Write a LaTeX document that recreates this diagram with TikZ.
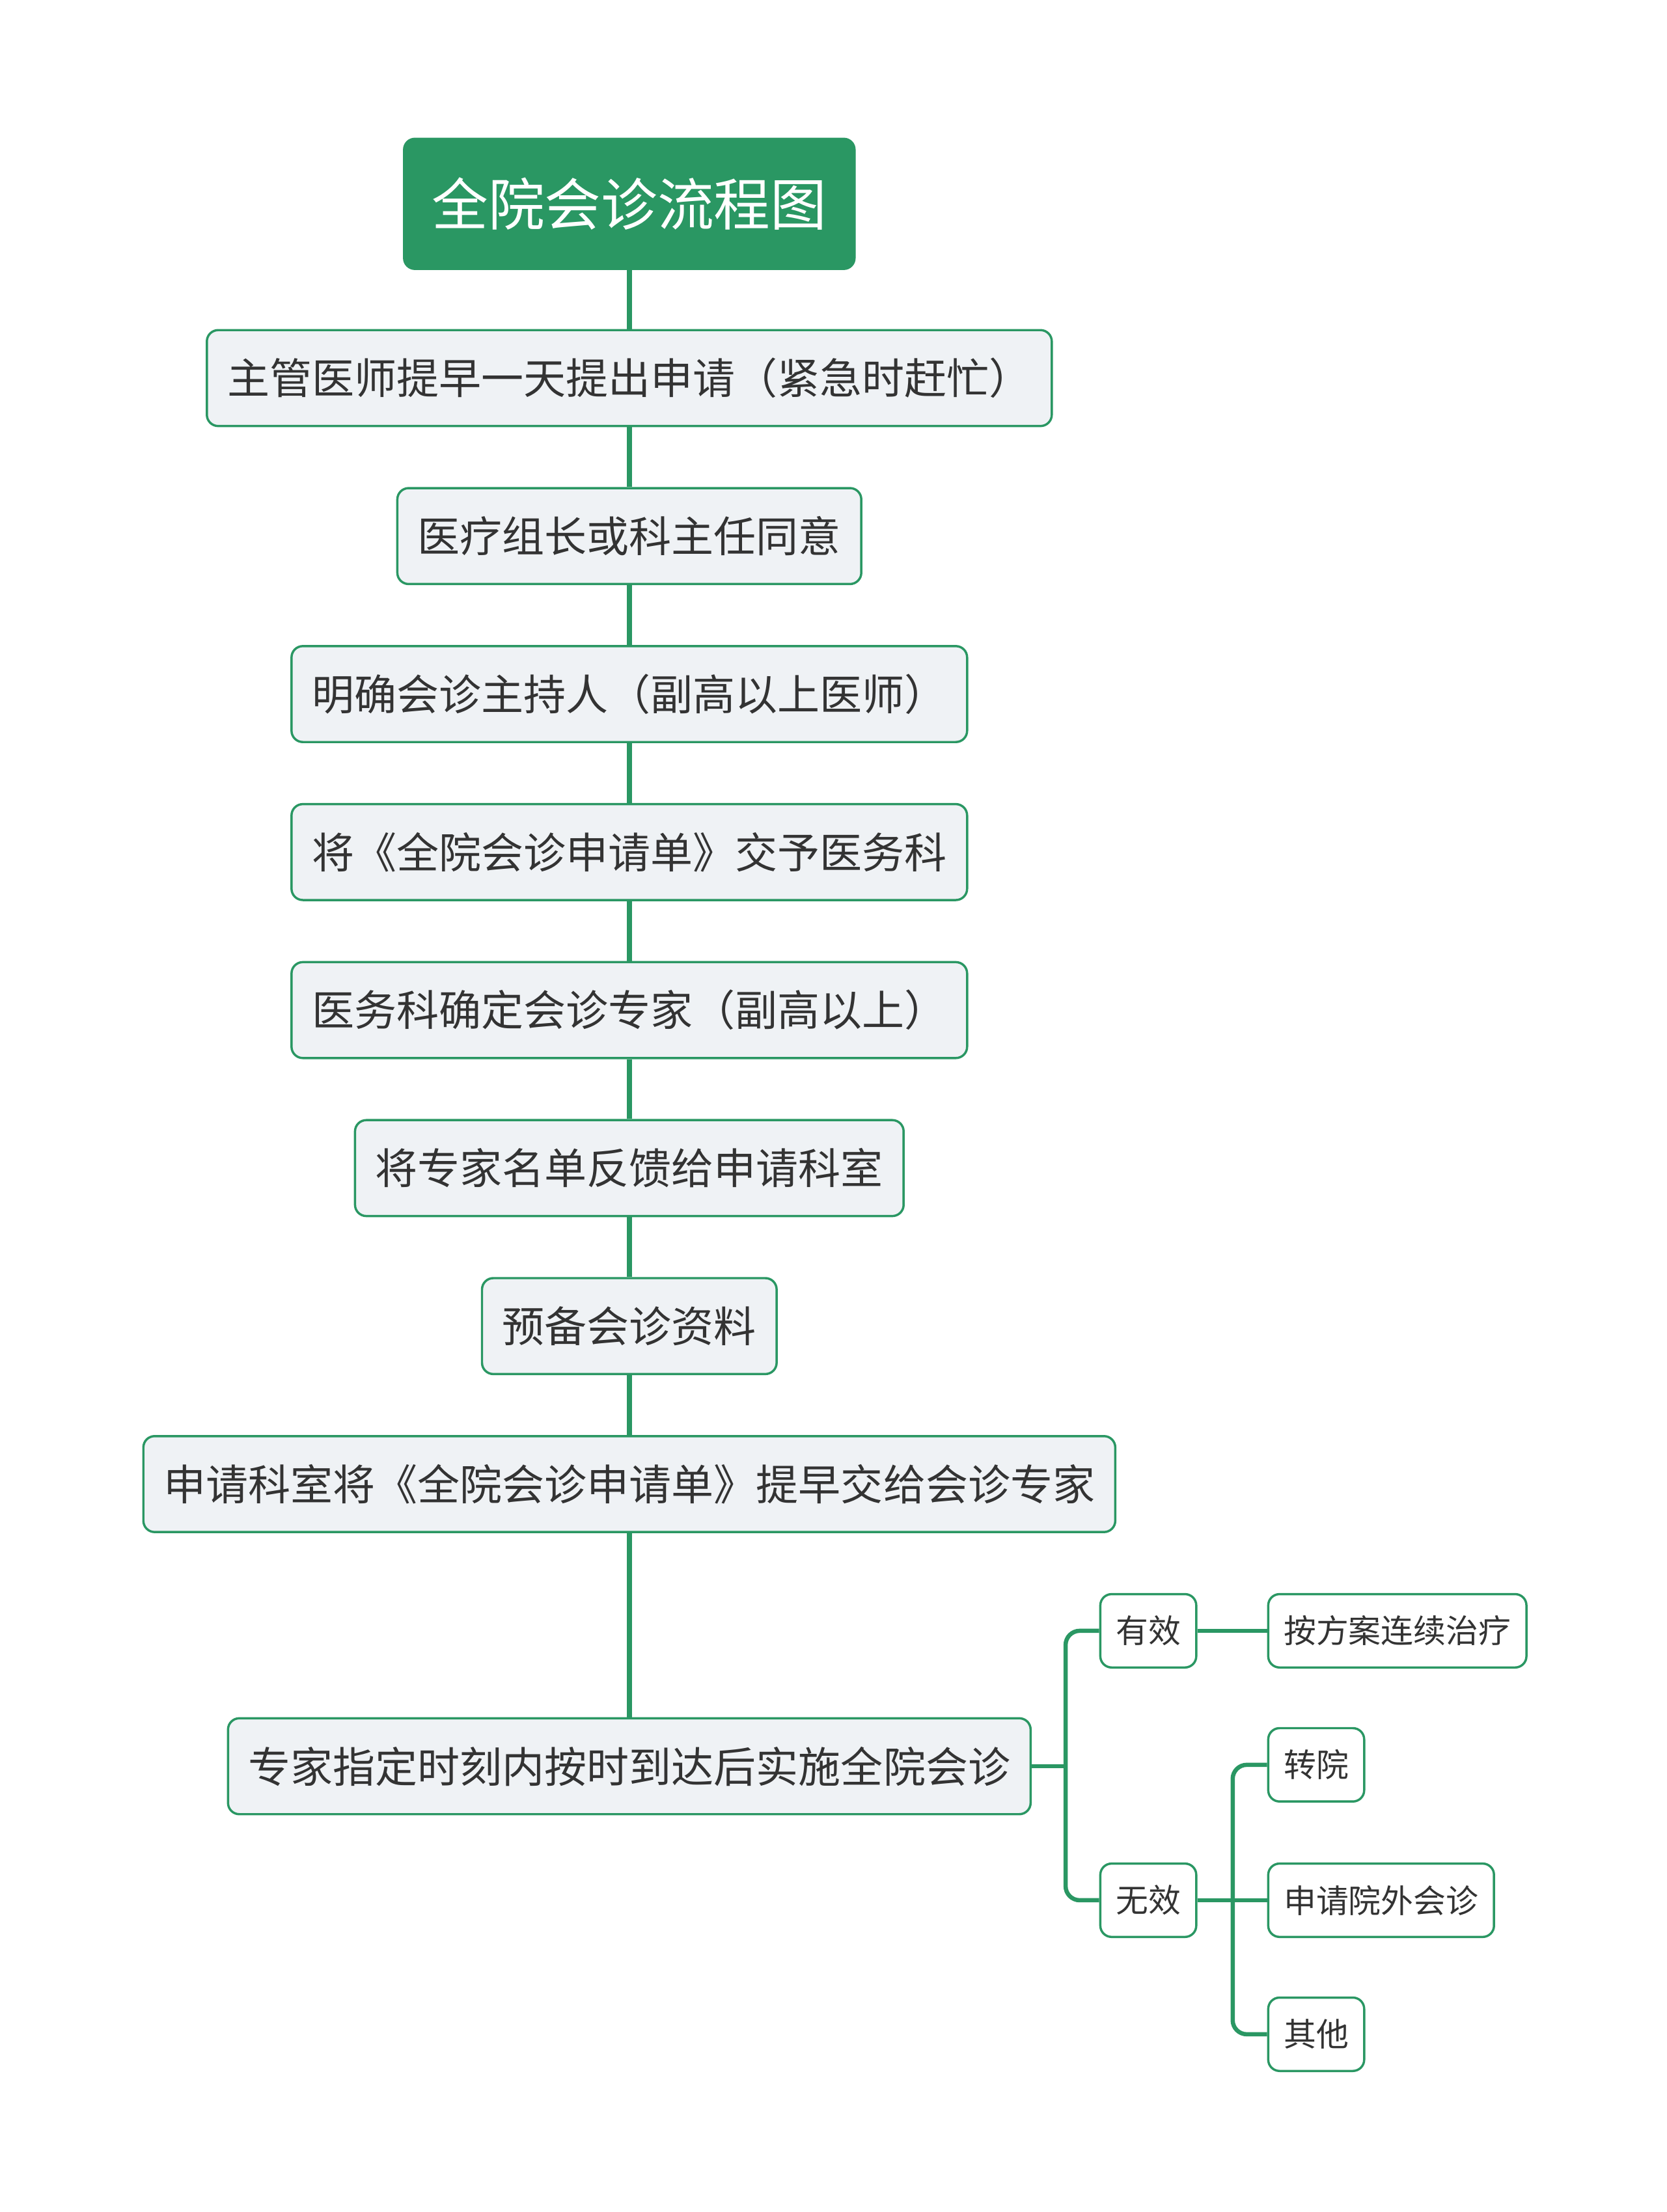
\documentclass[tikz,border=0pt]{standalone}
\usepackage{fontspec}
\newfontfamily\cjk{Noto Sans CJK SC}
\definecolor{verde}{HTML}{2A9763}
\definecolor{gris}{HTML}{EFF2F5}
\definecolor{tinta}{HTML}{333333}
\tikzset{
  titulo/.style={draw=verde, fill=verde, text=white, rounded corners=4pt,
    font=\cjk\fontsize{20}{24}\selectfont, minimum height=46.5pt, inner xsep=10pt},
  paso/.style={draw=verde, line width=0.8pt, fill=gris, text=tinta, rounded corners=4pt,
    font=\cjk\fontsize{15}{18}\selectfont, minimum height=34pt, inner xsep=7.2pt},
  hoja/.style={draw=verde, line width=0.8pt, fill=white, text=tinta, rounded corners=4pt,
    font=\cjk\fontsize{11.5}{14}\selectfont, minimum height=26pt, inner xsep=5.5pt, anchor=west},
  tronco/.style={draw=verde, line width=1.8pt},
  rama/.style={draw=verde, line width=1.5pt, rounded corners=5pt},
}
\begin{document}
\begin{tikzpicture}[x=0.5pt, y=-0.5pt]
  \useasboundingbox (0,0) rectangle (1181,1568);
  % el titulo
  \node[titulo] (t) at (446,144.5) {全院会诊流程图};
  % los pasos
  \foreach \y/\txt [count=\i] in {268/主管医师提早一天提出申请（紧急时赶忙）,
      380/医疗组长或科主任同意, 492/明确会诊主持人（副高以上医师）,
      604/将《全院会诊申请单》交予医务科, 716/医务科确定会诊专家（副高以上）,
      828/将专家名单反馈给申请科室, 940/预备会诊资料,
      1052/申请科室将《全院会诊申请单》提早交给会诊专家,
      1252/专家指定时刻内按时到达后实施全院会诊}
    { \node[paso] (p\i) at (446,\y) {\txt}; }
  \foreach \a/\b in {t/p1,p1/p2,p2/p3,p3/p4,p4/p5,p5/p6,p6/p7,p7/p8,p8/p9}
    { \draw[tronco] (\a.south) -- (\b.north); }
  % las ramas
  \node[hoja] (yx) at (779,1156) {有效};
  \node[hoja] (wx) at (779,1347) {无效};
  \node[hoja] (af) at (898,1156) {按方案连续治疗};
  \node[hoja] (zy) at (898,1251) {转院};
  \node[hoja] (sq) at (898,1347) {申请院外会诊};
  \node[hoja] (qt) at (898,1442) {其他};
  \draw[rama] (p9.east) -- ++(24,0) coordinate (j1);
  \draw[rama] (yx.west) -| (j1) |- (wx.west);
  \draw[rama] (yx.east) -- (af.west);
  \draw[rama] (wx.east) -- (sq.west);
  \path (wx.east) -- ++(25,0) coordinate (j2);
  \draw[rama] (zy.west) -| (j2) |- (qt.west);
\end{tikzpicture}
\end{document}
